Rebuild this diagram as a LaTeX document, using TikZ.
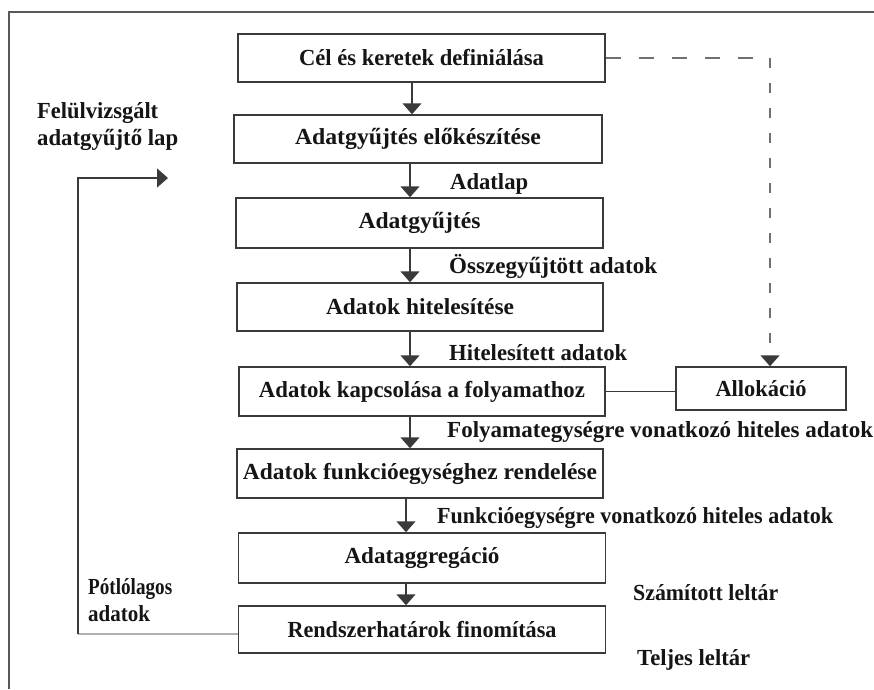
\documentclass[tikz,border=0pt]{standalone}
\usepackage{fontspec}
\setmainfont{Liberation Serif}
\usetikzlibrary{arrows.meta}

% set a text at a fixed width, keeping its height
\newcommand\fitw[2]{\resizebox{#1pt}{\height}{#2}}
\newcommand\dgfont{\fontsize{23}{27}\selectfont\bfseries}

\definecolor{boxgray}{HTML}{3A3A3A}
\definecolor{dashgray}{HTML}{707070}
\definecolor{loopgray}{HTML}{B0B0B0}
\definecolor{ink}{HTML}{151515}

\begin{document}
\begin{tikzpicture}[x=1pt,y=-1pt,
  box/.style={draw=boxgray, line width=1.5pt, inner sep=0pt, text=ink,
              minimum width=367pt, minimum height=48pt, font=\dgfont},
  lbl/.style={inner sep=0pt, anchor=west, text=ink, font=\dgfont, align=left},
  arr/.style={draw=boxgray, line width=1.5pt, -{Triangle[width=19pt,length=11pt]}},
  link/.style={draw=boxgray, line width=1.5pt},
  dashh/.style={draw=dashgray, line width=1.6pt, dash pattern=on 15pt off 18pt},
  dashv/.style={draw=dashgray, line width=1.6pt, dash pattern=on 10pt off 15pt,
                -{Triangle[width=19pt,length=11pt,color=boxgray]}},
  frame/.style={draw=boxgray!85, line width=1.8pt}]

\useasboundingbox (0,0) rectangle (874,689);
\fill[white] (0,0) rectangle (874,689);

% open frame round the chart
\draw[frame] (9,689) -- (9,12) -- (874,12);

% process steps
\node[box] (b1) at (421.5,58)  {\fitw{245}{Cél és keretek definiálása}};
\node[box, minimum width=368pt] (b2) at (418,139) {\fitw{246}{Adatgyűjtés előkészítése}};
\node[box, minimum height=50pt] (b3) at (419.5,223) {\fitw{122}{Adatgyűjtés}};
\node[box, minimum width=366pt] (b4) at (420,307) {\fitw{188}{Adatok hitelesítése}};
\node[box, minimum width=366pt, minimum height=49pt] (b5) at (422,391.5) {\fitw{326}{Adatok kapcsolása a folyamathoz}};
\node[box, minimum width=170pt, minimum height=43pt] (b6) at (761,388.5) {\fitw{91}{Allokáció}};
\node[box, minimum width=366pt, minimum height=49pt] (b7) at (420,473.5) {\fitw{354}{Adatok funkcióegységhez rendelése}};
\node[box, minimum height=50pt] (b8) at (422,558) {\raisebox{3pt}{\fitw{155}{Adataggregáció}}};
\node[box, minimum height=47pt] (b9) at (422,629.5) {\fitw{269}{Rendszerhatárok finomítása}};

% flow labels
\node[lbl] (l1) at (450,184) {\fitw{78}{Adatlap}};
\node[lbl] (l2) at (449,266) {\fitw{208}{Összegyűjtött adatok}};
\node[lbl] (l3) at (449,353) {\fitw{178}{Hitelesített adatok}};
\node[lbl] (l4) at (447,432) {\fitw{426}{Folyamategységre vonatkozó hiteles adatok}};
\node[lbl] (l5) at (437,518) {\fitw{396}{Funkcióegységre vonatkozó hiteles adatok}};
\node[lbl] (l6) at (633,593) {\fitw{145}{Számított leltár}};
\node[lbl] (l7) at (637,660) {\fitw{113}{Teljes leltár}};
\node[lbl] (l8) at (37,127) {\fitw{121}{Felülvizsgált}\\\fitw{141}{adatgyűjtő lap}};
\node[lbl] (l9) at (88,600) {\fitw{84}{Pótlólagos}\\\fitw{62}{adatok}};

% arrow columns
\coordinate (ca) at (412,0);
\coordinate (cb) at (410,0);
\coordinate (cc) at (406,0);
\coordinate (dcol) at (770,0);

% main flow
\draw[arr] (b1.south -| ca) -- (b2.north -| ca);
\draw[arr] (b2.south -| cb) -- (b3.north -| cb);
\draw[arr] (b3.south -| cb) -- (b4.north -| cb);
\draw[arr] (b4.south -| cb) -- (b5.north -| cb);
\draw[arr] (b5.south -| cb) -- (b7.north -| cb);
\draw[arr] (b7.south -| cc) -- (b8.north -| cc);
\draw[arr] (b8.south -| cc) -- (b9.north -| cc);

% allocation links
\draw[link] (b5.east) -- (b5.east -| b6.west);
\coordinate (dcorner) at (b1.east -| dcol);
\draw[dashh] (b1.east) -- (dcorner);
\draw[dashv] (dcorner) -- (b6.north -| dcol);

% feedback loop for supplementary data
\coordinate (lc1) at (78,634);
\coordinate (lc2) at (78,178);
\coordinate (lend) at (168,178);
\draw[draw=loopgray, line width=1.8pt] (b9.west |- lc1) -- (lc1);
\draw[arr, line width=1.4pt] (lc1) -- (lc2) -- (lend);

\end{tikzpicture}
\end{document}
